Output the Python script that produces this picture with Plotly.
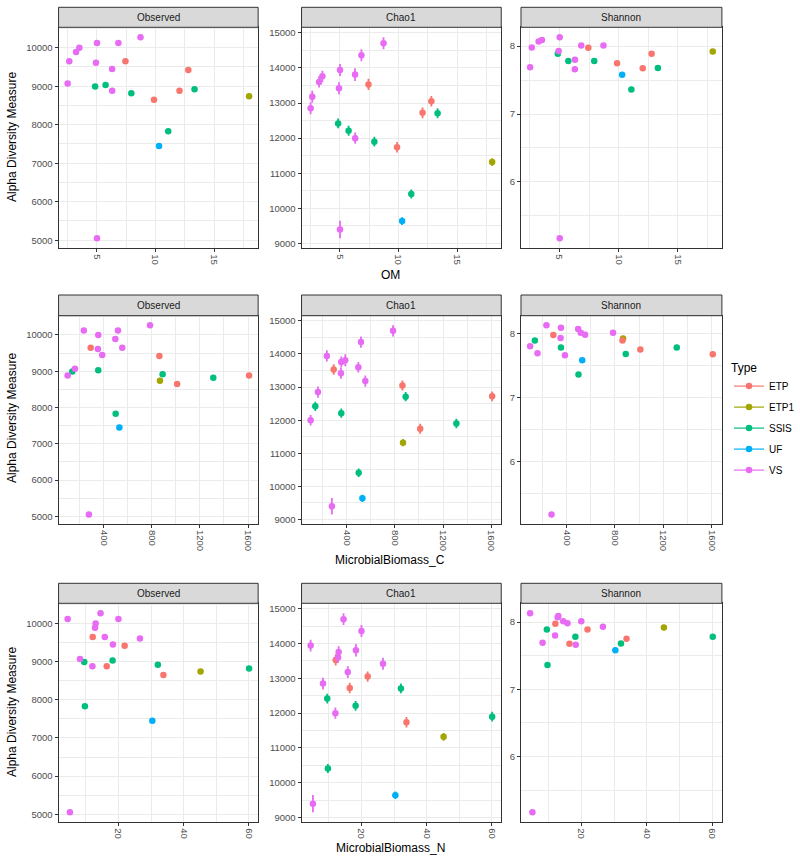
import plotly.graph_objects as go

# ---------------- data (one entry per sample) ----------------
sample_type = ["VS"] * 11 + ["ETP"] * 4 + ["SSIS"] * 5 + ["UF"] + ["ETP1"]

observed = [9070, 9650, 9890, 10000, 10120, 9610, 5050, 9450, 8880, 10120, 10270,
            9650, 8650, 8880, 9420,
            8990, 9030, 8820, 7830, 8920,
            7450,
            8740]
chao1 = [12850, 13180, 13600, 13760, 13940, 13420, 9400, 13810, 12000, 14360, 14700,
         13530, 11740, 12720, 13050,
         12420, 12210, 11900, 10410, 12710,
         9640,
         11320]
se_chao1 = [170, 170, 160, 160, 170, 170, 250, 180, 160, 170, 170,
            160, 150, 150, 150,
            140, 140, 140, 130, 140,
            110,
            110]
shannon = [7.69, 7.98, 8.07, 8.09, 8.13, 7.93, 5.17, 7.66, 7.80, 8.01, 8.01,
           7.975, 7.75, 7.675, 7.89,
           7.89, 7.78, 7.78, 7.36, 7.68,
           7.58,
           7.92]
om = [2.52, 2.66, 3.24, 3.52, 5.02, 4.93, 5.02, 6.30, 6.31, 6.84, 8.72,
      7.44, 9.87, 12.04, 12.79,
      4.86, 5.75, 7.94, 11.08, 13.32,
      10.30,
      17.96]
mbc = [159, 553, 495, 353, 233, 350, 275, 386, 98, 517, 784,
       290, 1010, 1609, 862,
       137, 353, 1311, 498, 889,
       529,
       867]
mbn = [8.2, 15.8, 12.8, 13.0, 4.4, 26.6, 5.1, 18.3, 12.0, 20.0, 14.5,
       12.1, 33.8, 16.4, 21.9,
       9.5, 18.2, 60.1, 9.7, 32.1,
       30.4,
       45.2]

type_levels = ["ETP", "ETP1", "SSIS", "UF", "VS"]
type_colors = ["#F8766D", "#A3A500", "#00BF7D", "#00B0F6", "#E76BF3"]
draw_order = ["ETP1", "ETP", "SSIS", "UF", "VS"]

measures = ["Observed", "Chao1", "Shannon"]
measure_values = [observed, chao1, shannon]
row_names = ["OM", "MicrobialBiomass_C", "MicrobialBiomass_N"]
row_values = [om, mbc, mbn]
x_dticks = [5, 400, 20]
y_dticks = [1000, 1000, 1]

# ---------------- layout geometry (pixels) ----------------
W, H = 800, 863
col_px = [(58.7, 258.8), (302.3, 502.5), (522.3, 723.7)]
row_px = [(7.3, 27.3, 248.3), (295.0, 315.7, 524.0), (583.3, 603.3, 822.3)]
xtitle_y = [275, 560, 848]
ytitle_y = [137, 418, 712]

GRID = "#EBEBEB"
DARK = "#333333"
FAMILY = "Liberation Sans, Arial, sans-serif"
TICKFONT = dict(family=FAMILY, size=9.5, color="#4D4D4D")


def expand(lo, hi, f=0.05):
    d = hi - lo
    return [lo - d * f, hi + d * f]


color_of = dict(zip(type_levels, type_colors))
fig = go.Figure()
layout = {}
shapes = []
annotations = []

for r in range(3):
    xs_all = row_values[r]
    xr = expand(min(xs_all), max(xs_all))
    st, pt, pb = row_px[r]
    for c in range(3):
        k = r * 3 + c + 1
        xa = "x" if k == 1 else f"x{k}"
        ya = "y" if k == 1 else f"y{k}"
        yv = measure_values[c]
        has_se = measures[c] == "Chao1"
        if has_se:
            lo = min(v - s for v, s in zip(yv, se_chao1))
            hi = max(v + s for v, s in zip(yv, se_chao1))
        else:
            lo, hi = min(yv), max(yv)
        yr = expand(lo, hi)

        for t in draw_order:
            idx = [i for i, s in enumerate(sample_type) if s == t]
            tr = dict(
                x=[xs_all[i] for i in idx],
                y=[yv[i] for i in idx],
                mode="markers",
                marker=dict(color=color_of[t], size=6.5, line=dict(width=0)),
                showlegend=False,
                xaxis=xa, yaxis=ya,
                hoverinfo="x+y",
            )
            if has_se:
                tr["error_y"] = dict(type="data", array=[se_chao1[i] for i in idx],
                                     color=color_of[t], thickness=1.8, width=0)
            fig.add_trace(go.Scatter(**tr))

        x0, x1 = col_px[c]
        xkey = "xaxis" if k == 1 else f"xaxis{k}"
        ykey = "yaxis" if k == 1 else f"yaxis{k}"
        common = dict(showline=True, mirror=True, linecolor=DARK, linewidth=1,
                      ticks="outside", ticklen=3, tickcolor=DARK, tickwidth=1,
                      showgrid=True, gridcolor=GRID, gridwidth=1, zeroline=False,
                      tickfont=TICKFONT, tickmode="linear", tick0=0, automargin=False)
        layout[xkey] = dict(common, domain=[x0 / W, x1 / W], anchor=ya, range=xr,
                            dtick=x_dticks[r], tickangle=90, tickformat="d",
                            minor=dict(dtick=x_dticks[r] / 2, tick0=0, showgrid=True,
                                       gridcolor=GRID, gridwidth=0.5))
        layout[ykey] = dict(common, domain=[1 - pb / H, 1 - pt / H], anchor=xa, range=yr,
                            dtick=y_dticks[c], tickformat="d",
                            minor=dict(dtick=y_dticks[c] / 2, tick0=0, showgrid=True,
                                       gridcolor=GRID, gridwidth=0.5))
        # facet strip
        shapes.append(dict(type="rect", xref="paper", yref="paper",
                           x0=x0 / W, x1=x1 / W, y0=1 - pt / H, y1=1 - st / H,
                           fillcolor="#D9D9D9", line=dict(color=DARK, width=1), layer="above"))
        annotations.append(dict(text=measures[c], xref="paper", yref="paper",
                                x=(x0 + x1) / 2 / W, y=1 - (st + pt) / 2 / H,
                                showarrow=False, xanchor="center", yanchor="middle",
                                font=dict(family=FAMILY, size=10, color="#1A1A1A")))
    # axis titles
    annotations.append(dict(text=row_names[r], xref="paper", yref="paper",
                            x=(col_px[0][0] + col_px[2][1]) / 2 / W, y=1 - xtitle_y[r] / H,
                            showarrow=False, xanchor="center", yanchor="middle",
                            font=dict(family=FAMILY, size=12, color="black")))
    annotations.append(dict(text="Alpha Diversity Measure", xref="paper", yref="paper",
                            x=12 / W, y=1 - ytitle_y[r] / H, textangle=-90,
                            showarrow=False, xanchor="center", yanchor="middle",
                            font=dict(family=FAMILY, size=12, color="black")))

# legend entries
for rank, (t, col) in enumerate(zip(type_levels, type_colors)):
    fig.add_trace(go.Scatter(x=[None], y=[None], mode="lines+markers", name=t,
                             legendgroup=t,
                             marker=dict(color=col, size=6.5), line=dict(color=col, width=1.2),
                             showlegend=True, legendrank=rank + 1, xaxis="x4", yaxis="y4"))

fig.update_layout(
    width=W, height=H,
    margin=dict(l=0, r=0, t=0, b=0),
    paper_bgcolor="white", plot_bgcolor="white",
    font=dict(family=FAMILY),
    shapes=shapes, annotations=annotations,
    legend=dict(x=731 / W, y=1 - 356 / H, xanchor="left", yanchor="top",
                title=dict(text="Type", font=dict(size=12, color="black")),
                font=dict(size=10, color="black"), itemwidth=30, tracegroupgap=2,
                bgcolor="rgba(0,0,0,0)"),
    **layout,
)

fig.write_html("out.html",
               config={"displayModeBar": False},
               post_script="document.body.style.margin='0px';document.body.style.overflow='hidden';")
